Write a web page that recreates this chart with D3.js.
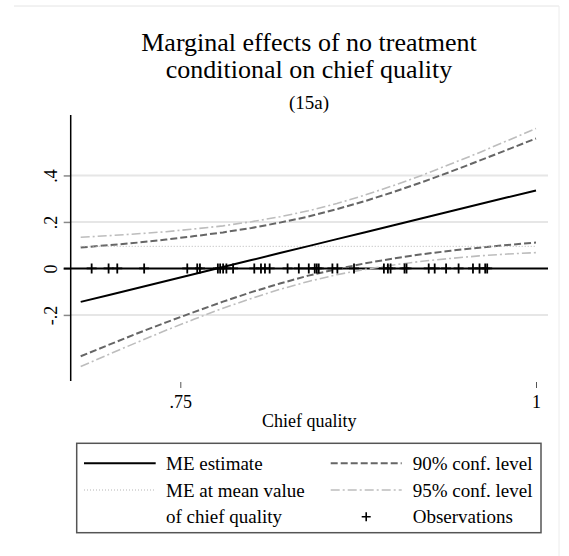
<!DOCTYPE html>
<html>
<head>
<meta charset="utf-8">
<script src="https://cdn.jsdelivr.net/npm/d3@7"></script>
<style>
  body { margin: 0; background: #fff; }
  svg { display: block; font-family: "Liberation Serif", "Times New Roman", serif; }
</style>
</head>
<body>
<div id="chart"></div>
<script>
// chief quality values where the marginal effect was evaluated
var quality = [0.68, 0.70, 0.72, 0.74, 0.76, 0.78, 0.80, 0.82, 0.84, 0.86, 0.88, 0.90, 0.92, 0.94, 0.96, 0.98, 1.00];

// marginal effect of no treatment and its confidence bands
var meEstimate = [-0.144, -0.114, -0.084, -0.054, -0.024, 0.006, 0.036, 0.066, 0.096, 0.126, 0.156, 0.186, 0.216, 0.246, 0.276, 0.306, 0.335];
var upper90 = [0.090, 0.100, 0.111, 0.124, 0.139, 0.155, 0.174, 0.197, 0.223, 0.255, 0.290, 0.329, 0.371, 0.416, 0.463, 0.511, 0.559];
var lower90 = [-0.378, -0.328, -0.279, -0.232, -0.187, -0.143, -0.102, -0.065, -0.031, -0.003, 0.022, 0.043, 0.061, 0.076, 0.089, 0.101, 0.111];
var upper95 = [0.134, 0.141, 0.149, 0.158, 0.170, 0.183, 0.201, 0.222, 0.248, 0.279, 0.316, 0.357, 0.401, 0.449, 0.498, 0.550, 0.602];
var lower95 = [-0.422, -0.369, -0.317, -0.266, -0.218, -0.171, -0.129, -0.090, -0.056, -0.027, -0.004, 0.015, 0.031, 0.043, 0.054, 0.062, 0.068];

// ME at the mean value of chief quality
var meAtMean = 0.095;

// observed chief quality values (rug of + markers on the zero line)
var observations = [0.6877, 0.6996, 0.7057, 0.7246, 0.7549, 0.7619, 0.7638, 0.7764, 0.7780, 0.7801,
                    0.7824, 0.7871, 0.8020, 0.8067, 0.8095, 0.8128, 0.8254, 0.8333, 0.8403, 0.8445,
                    0.8459, 0.8473, 0.8569, 0.8604, 0.8721, 0.8931, 0.8959, 0.8978, 0.9076, 0.9090,
                    0.9246, 0.9288, 0.9368, 0.9456, 0.9557, 0.9603, 0.9643, 0.9657];

var xTickVals = [0.75, 1];
var xTickLabels = [".75", "1"];
var yTickVals = [-0.2, 0, 0.2, 0.4];
var yTickLabels = ["-.2", "0", ".2", ".4"];
var gridVals = [-0.2, 0.2, 0.4];

var width = 569,
    height = 556;

var plotLeft = 70.7, plotRight = 548;

var x = d3.scaleLinear().domain([0.75, 1]).range([180.3, 536]);
var y = d3.scaleLinear().domain([-0.48, 0.66]).range([380, 115]);

var svg = d3.select("#chart").append("svg")
    .attr("width", width)
    .attr("height", height);

// faint page frame and the cut-off caption above
svg.append("line")
    .attr("x1", 14).attr("x2", 559).attr("y1", 6).attr("y2", 6)
    .style("stroke", "#e4e4e4").style("stroke-width", 1);
svg.append("line")
    .attr("x1", 559).attr("x2", 559).attr("y1", 6).attr("y2", height)
    .style("stroke", "#ececec").style("stroke-width", 1);
svg.append("text")
    .attr("x", 243).attr("y", -11)
    .style("font-size", "26px")
    .text("g");

// titles
svg.append("text")
    .attr("x", 309).attr("y", 51)
    .attr("text-anchor", "middle")
    .style("font-size", "26px")
    .text("Marginal effects of no treatment");
svg.append("text")
    .attr("x", 309).attr("y", 78)
    .attr("text-anchor", "middle")
    .style("font-size", "26px")
    .text("conditional on chief quality");
svg.append("text")
    .attr("x", 309).attr("y", 109)
    .attr("text-anchor", "middle")
    .style("font-size", "19px")
    .text("(15a)");

// gridlines
svg.selectAll("line.grid")
  .data(gridVals).enter().append("line")
    .attr("class", "grid")
    .attr("x1", plotLeft).attr("x2", plotRight)
    .attr("y1", function(d) { return y(d); })
    .attr("y2", function(d) { return y(d); })
    .style("stroke", "#e6e6e6").style("stroke-width", 2);

// y axis
var yAxis = svg.append("g")
    .attr("transform", "translate(" + plotLeft + ",0)")
    .call(d3.axisLeft(y)
        .tickValues(yTickVals)
        .tickSize(7)
        .tickFormat(function(d, i) { return yTickLabels[i]; }));
yAxis.select(".domain").remove();
yAxis.selectAll(".tick line").style("stroke", "#888").style("stroke-width", 1.5);
yAxis.selectAll(".tick text")
    .attr("x", null).attr("dy", null)
    .attr("transform", "translate(-14,0) rotate(-90)")
    .attr("text-anchor", "middle")
    .style("font-family", "Liberation Serif, serif")
    .style("font-size", "18px")
    .style("fill", "#000");
svg.append("line")
    .attr("x1", plotLeft).attr("x2", plotLeft)
    .attr("y1", 115).attr("y2", 381)
    .style("stroke", "#000").style("stroke-width", 1.5);

// x axis (ticks only)
var xAxis = svg.append("g")
    .attr("transform", "translate(0,382)")
    .call(d3.axisBottom(x)
        .tickValues(xTickVals)
        .tickSize(6)
        .tickPadding(7)
        .tickFormat(function(d, i) { return xTickLabels[i]; }));
xAxis.select(".domain").remove();
xAxis.selectAll(".tick line").style("stroke", "#555").style("stroke-width", 1);
xAxis.selectAll(".tick text")
    .style("font-family", "Liberation Serif, serif")
    .style("font-size", "18px")
    .style("fill", "#000");

svg.append("text")
    .attr("x", (plotLeft + plotRight) / 2).attr("y", 427)
    .attr("text-anchor", "middle")
    .style("font-size", "18px")
    .text("Chief quality");

// zero line
svg.append("line")
    .attr("x1", plotLeft - 7).attr("x2", plotRight)
    .attr("y1", y(0)).attr("y2", y(0))
    .style("stroke", "#000").style("stroke-width", 2);

// line series
var series = [
  {values: lower95, stroke: "#bdbdbd", width: 1.6, dash: "9,3,2,3"},
  {values: upper95, stroke: "#bdbdbd", width: 1.6, dash: "9,3,2,3"},
  {values: lower90, stroke: "#666", width: 2, dash: "7,3"},
  {values: upper90, stroke: "#666", width: 2, dash: "7,3"},
  {values: quality.map(function() { return meAtMean; }), stroke: "#b5b5b5", width: 1, dash: "1,2"},
  {values: meEstimate, stroke: "#000", width: 2, dash: null}
];

var line = d3.line()
    .x(function(d) { return x(d[0]); })
    .y(function(d) { return y(d[1]); });

svg.selectAll("path.series")
  .data(series).enter().append("path")
    .attr("class", "series")
    .attr("d", function(s) { return line(d3.zip(quality, s.values)); })
    .style("fill", "none")
    .style("stroke", function(s) { return s.stroke; })
    .style("stroke-width", function(s) { return s.width; })
    .style("stroke-dasharray", function(s) { return s.dash; });

// observation markers
var plus = "M-5,0H5M0,-5V5";
svg.selectAll("path.obs")
  .data(observations).enter().append("path")
    .attr("class", "obs")
    .attr("d", plus)
    .attr("transform", function(d) { return "translate(" + x(d) + "," + y(0) + ")"; })
    .style("stroke", "#000").style("stroke-width", 1.8).style("fill", "none");

// legend
var legend = svg.append("g");
legend.append("rect")
    .attr("x", 76.7).attr("y", 443.3)
    .attr("width", 464.3).attr("height", 89.4)
    .style("fill", "#fff").style("stroke", "#555").style("stroke-width", 1.5);

var legendItems = [
  {label: "ME estimate", col: 0, row: 0, s: series[5]},
  {label: "ME at mean value", col: 0, row: 1, s: series[4]},
  {label: "of chief quality", col: 0, row: 2, s: null},
  {label: "90% conf. level", col: 1, row: 0, s: series[3]},
  {label: "95% conf. level", col: 1, row: 1, s: series[1]},
  {label: "Observations", col: 1, row: 2, s: "plus"}
];
var colSample = [[84, 155.7], [330.7, 401.7]];
var colText = [166, 412.7];
var rowY = [463.3, 490, 516.7];

legendItems.forEach(function(it) {
  var cy = rowY[it.row];
  if (it.s === "plus") {
    legend.append("path")
        .attr("d", "M-4.5,0H4.5M0,-4.5V4.5")
        .attr("transform", "translate(" + (colSample[it.col][0] + colSample[it.col][1]) / 2 + "," + cy + ")")
        .style("stroke", "#000").style("stroke-width", 1.6);
  } else if (it.s) {
    legend.append("line")
        .attr("x1", colSample[it.col][0]).attr("x2", colSample[it.col][1])
        .attr("y1", cy).attr("y2", cy)
        .style("stroke", it.s.stroke)
        .style("stroke-width", it.s.width)
        .style("stroke-dasharray", it.s.dash);
  }
  legend.append("text")
      .attr("x", colText[it.col]).attr("y", cy)
      .attr("dy", "0.35em")
      .style("font-size", "19px")
      .text(it.label);
});
</script>
</body>
</html>
